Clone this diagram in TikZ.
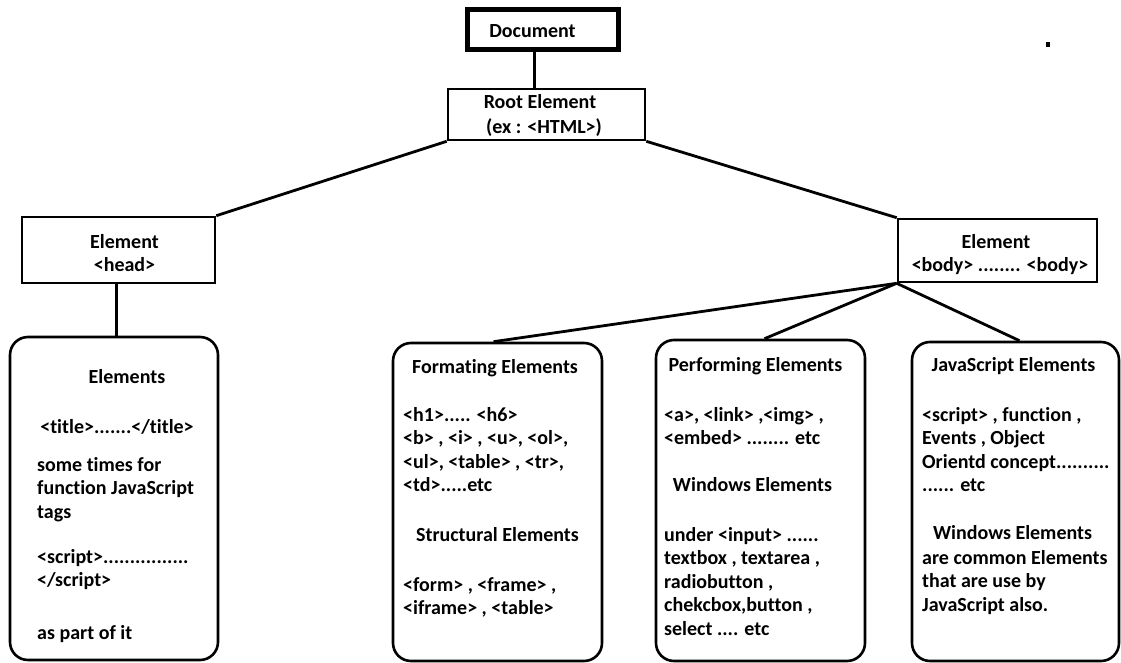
\documentclass[tikz,border=0pt]{standalone}
\usepackage{fontspec}
\setmainfont[Ligatures=NoCommon]{Carlito}
\begin{document}
\begin{tikzpicture}[x=1pt,y=-1pt,
  every node/.style={font=\fontsize{20}{23.5}\selectfont\bfseries, inner sep=0pt},
  sqbox/.style={draw, line width=2.6pt, rectangle},
  rbox/.style={draw, line width=2.6pt, rectangle, rounded corners=18pt},
  conn/.style={line width=2.8pt},
  txt/.style={anchor=base},
  blk/.style={anchor=north west, align=left}]
\useasboundingbox (0,0) rectangle (1121,663);
% boxes
\node[sqbox, line width=5pt, minimum width=151pt, minimum height=40pt] (doc) at (542.5,30) {};
\node[sqbox, minimum width=197pt, minimum height=51pt] (root) at (546.5,114.5) {};
\node[sqbox, minimum width=193pt, minimum height=66pt] (head) at (118.5,250) {};
\node[sqbox, minimum width=199pt, minimum height=63pt] (body) at (997.5,250.5) {};
\node[rbox, minimum width=208pt, minimum height=323pt] (elems) at (114,498.5) {};
\node[rbox, minimum width=209pt, minimum height=318pt] (form) at (497.5,502) {};
\node[rbox, minimum width=209pt, minimum height=321pt] (perf) at (760.5,500.5) {};
\node[rbox, minimum width=207pt, minimum height=319pt] (js) at (1015.5,501.5) {};
% connectors
\draw[conn] ([xshift=-8pt]doc.south) -- ([xshift=-8pt]doc.south |- root.north);
\draw[conn] (root.south west) -- (head.north east);
\draw[conn] (root.south east) -- (body.north west);
\draw[conn] ([xshift=-2pt]head.south) -- ([xshift=-2pt]head.south |- elems.north);
\draw[conn] (body.south west) -- ([xshift=-4pt]form.north);
\draw[conn] (body.south west) -- ([xshift=4pt]perf.north);
\draw[conn] (body.south west) -- ([xshift=4pt]js.north);
% texts
\node[txt] (tdoc) at (532.5,38) {Document};
\node[txt] (troot1) at (540,109) {Root Element};
\node[txt] (troot2) at (544,134) {(ex : <HTML>)};
\node[txt] (thead1) at (124.5,248) {Element};
\node[txt] (thead2) at (124.5,271) {<head>};
\node[txt] (tbody1) at (996,248) {Element};
\node[txt] (tbody2) at (1000,271) {<body> ........ <body>};
% left box
\node[txt] (e1) at (127,383) {Elements};
\node[txt] (e2) at (117,433) {<title>.......</title>};
\node[blk] (e3) at (37,454.5) {\strut some times for\\function JavaScript\\tags};
\node[blk] (e4) at (37,546.5) {\strut <script>................\\</script>};
\node[txt, anchor=base west] (e5) at (37,639) {as part of it};
% formating
\node[txt] (f1) at (495,373) {Formating Elements};
\node[blk] (f2) at (403,404.5) {\strut <h1>..... <h6>\\<b> , <i> , <u>, <ol>,\\<ul>, <table> , <tr>,\\<td>.....etc};
\node[txt] (f3) at (497.5,541) {Structural Elements};
\node[blk] (f4) at (403,574.5) {\strut <form> , <frame> ,\\<iframe> , <table>};
% performing
\node[txt] (p1) at (755.5,371) {Performing Elements};
\node[blk] (p2) at (664,404.5) {\strut <a>, <link> ,<img> ,\\<embed> ........ etc};
\node[txt] (p3) at (752.5,491) {Windows Elements};
\node[blk] (p4) at (664,524.5) {\strut under <input> ......\\textbox , textarea ,\\radiobutton ,\\chekcbox,button ,\\select .... etc};
% javascript
\node[txt] (j1) at (1013.5,371) {JavaScript Elements};
\node[blk] (j2) at (922,404.5) {\strut <script> , function ,\\Events , Object\\Orientd concept..........\\...... etc};
\node[txt] (j3) at (1012.5,539) {Windows Elements};
\node[blk] (j4) at (922,547.5) {\strut are common Elements\\that are use by\\JavaScript also.};
% stray dot
\fill (1046,42) rectangle (1050,47);
\end{tikzpicture}
\end{document}
